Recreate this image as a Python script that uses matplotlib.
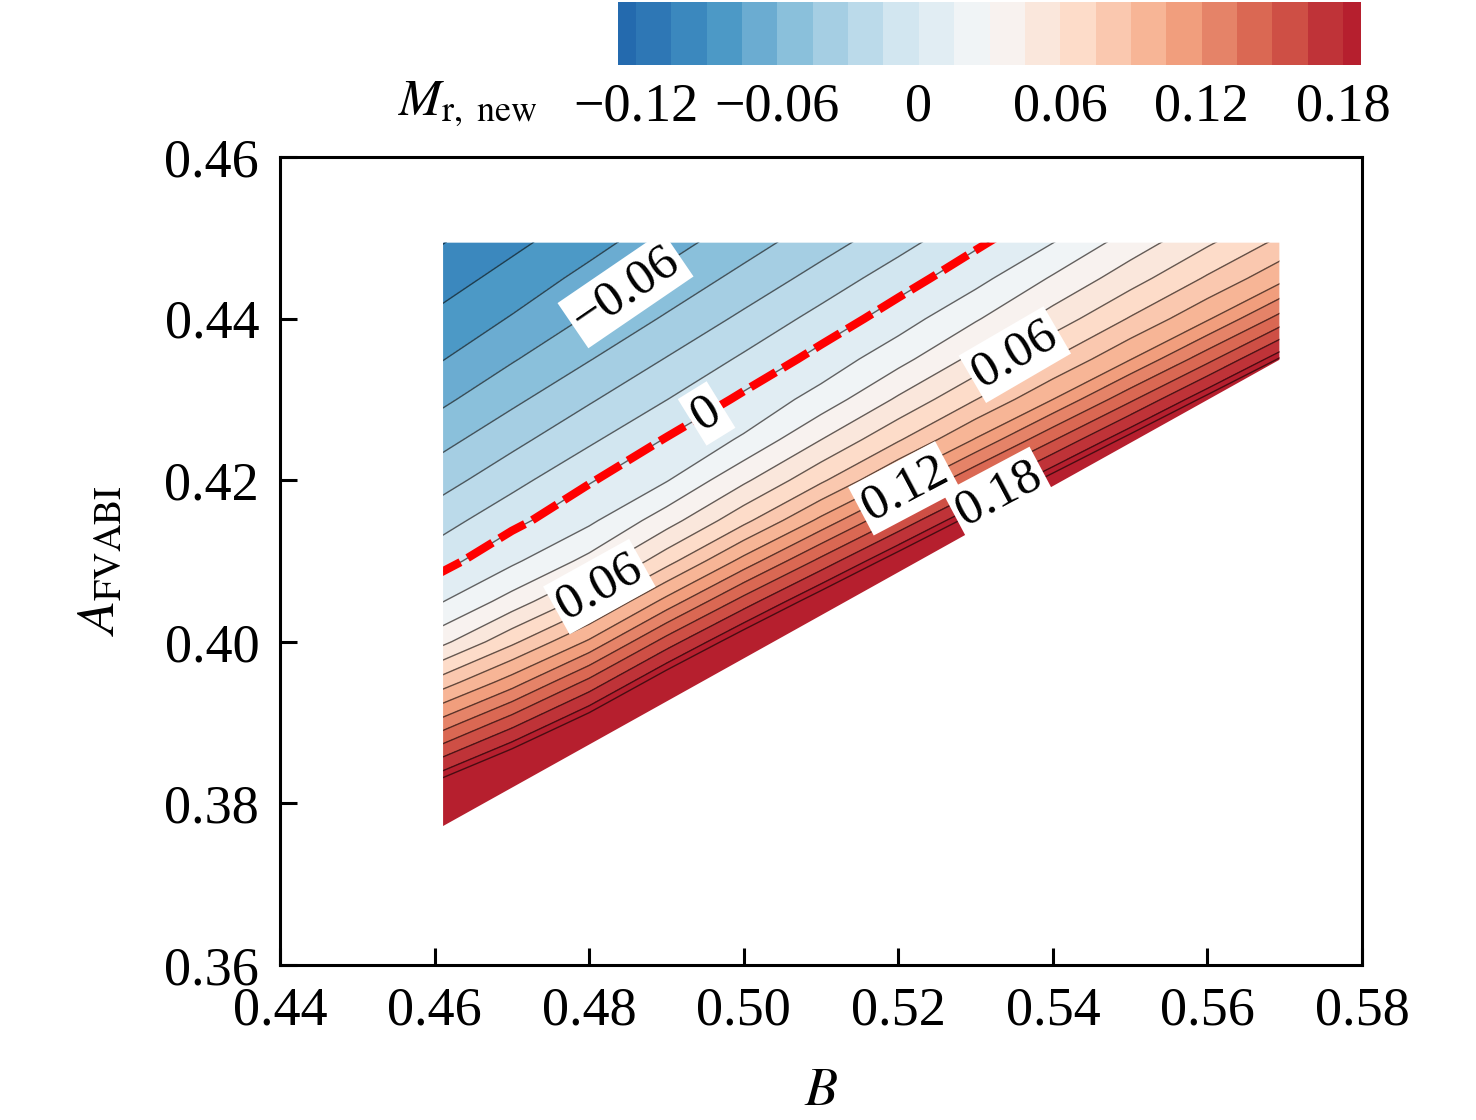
import numpy as np
import matplotlib
matplotlib.use('Agg')
import matplotlib.pyplot as plt
import matplotlib.cm as cm
from matplotlib.colors import ListedColormap, BoundaryNorm
from matplotlib.patches import Polygon

plt.rcParams['font.family'] = ['Liberation Serif', 'DejaVu Serif']
plt.rcParams['mathtext.fontset'] = 'stix'
plt.rcParams['contour.negative_linestyle'] = 'solid'

# grid of B (columns) and A_FVABI (rows, top to bottom), values of M_r,new
B = [0.46, 0.47, 0.48, 0.49, 0.50, 0.51, 0.52, 0.53, 0.54, 0.55, 0.56, 0.57]
A = [0.450, 0.445, 0.440, 0.435, 0.430, 0.425, 0.420, 0.415,
     0.410, 0.405, 0.400, 0.395, 0.390, 0.385, 0.380, 0.375]
M = [
    [-0.1080, -0.0949, -0.0815, -0.0672, -0.0529, -0.0379, -0.0220, -0.0044, 0.0125, 0.0346, 0.0552, 0.0774],
    [-0.0979, -0.0845, -0.0704, -0.0556, -0.0405, -0.0243, -0.0071, 0.0100, 0.0317, 0.0533, 0.0769, 0.1021],
    [-0.0875, -0.0739, -0.0584, -0.0432, -0.0268, -0.0098, 0.0077, 0.0283, 0.0513, 0.0762, 0.1030, 0.1429],
    [-0.0772, -0.0614, -0.0458, -0.0293, -0.0126, 0.0054, 0.0248, 0.0494, 0.0755, 0.1041, 0.1447, 0.1920],
    [-0.0646, -0.0484, -0.0318, -0.0153, 0.0032, 0.0211, 0.0473, 0.0746, 0.1050, 0.1467, 0.1932, 0.2400],
    [-0.0512, -0.0344, -0.0177, 0.0011, 0.0172, 0.0450, 0.0735, 0.1063, 0.1487, 0.1944, 0.2400, 0.2800],
    [-0.0372, -0.0202, -0.0013, 0.0140, 0.0421, 0.0722, 0.1075, 0.1507, 0.1958, 0.2400, 0.2800, 0.3200],
    [-0.0227, -0.0041, 0.0120, 0.0383, 0.0708, 0.1089, 0.1527, 0.1970, 0.2400, 0.2800, 0.3200, 0.3600],
    [-0.0069, 0.0121, 0.0345, 0.0691, 0.1102, 0.1546, 0.1982, 0.2400, 0.2850, 0.3200, 0.3600, 0.4000],
    [0.0121, 0.0361, 0.0675, 0.1100, 0.1566, 0.1995, 0.2430, 0.2900, 0.3300, 0.3600, 0.4000, 0.4400],
    [0.0376, 0.0715, 0.1074, 0.1569, 0.2007, 0.2440, 0.2900, 0.3300, 0.3700, 0.4000, 0.4400, 0.4800],
    [0.0790, 0.1126, 0.1546, 0.2005, 0.2450, 0.2900, 0.3300, 0.3700, 0.4100, 0.4400, 0.4800, 0.5200],
    [0.1221, 0.1591, 0.1982, 0.2450, 0.2900, 0.3300, 0.3700, 0.4100, 0.4500, 0.4800, 0.5200, 0.5600],
    [0.1679, 0.2028, 0.2425, 0.2900, 0.3300, 0.3700, 0.4100, 0.4500, 0.4900, 0.5200, 0.5600, 0.6000],
    [0.2116, 0.2472, 0.2870, 0.3300, 0.3700, 0.4100, 0.4500, 0.4900, 0.5300, 0.5600, 0.6000, 0.6400],
    [0.2560, 0.2900, 0.3300, 0.3700, 0.4100, 0.4500, 0.4900, 0.5300, 0.5700, 0.6000, 0.6400, 0.6800],
]

# corners of the region where the map is defined
domain_B = [0.4611, 0.5693, 0.5693, 0.4611]
domain_A = [0.4494, 0.4494, 0.4349, 0.3772]

cbar_ticks = [-0.12, -0.06, 0.0, 0.06, 0.12, 0.18]
cbar_labels = ['\u22120.12', '\u22120.06', '0', '0.06', '0.12', '0.18']
label_levels = [-0.06, 0.06, 0.12, 0.18]
label_fmt = {-0.06: '\u22120.06', 0.06: '0.06', 0.12: '0.12', 0.18: '0.18'}
label_pos = [(0.4852, 0.4429), (0.4814, 0.4067), (0.5351, 0.4355),
             (0.5209, 0.4188), (0.5332, 0.4180)]
zero_pos = [(0.4951, 0.4284)]

levels = [-0.1275] + [round(-0.12 + 0.015 * i, 3) for i in range(21)] + [0.1875]
lv = np.array(levels)
mids = (lv[:-1] + lv[1:]) / 2
pos = 0.1 + 0.8 * (mids - lv[0]) / (lv[-1] - lv[0])
band_colors = plt.cm.RdBu_r(pos)
cmap = ListedColormap(band_colors)
cmap.set_over(band_colors[-1])
norm = BoundaryNorm(levels, len(band_colors))

Bg, Ag = np.meshgrid(B, A)
Mg = np.array(M)

fig = plt.figure(figsize=(14.76, 11.2), dpi=100)
ax = fig.add_axes([0.1897, 0.1384, 0.7331, 0.7214])

clip = Polygon(np.column_stack([domain_B, domain_A]), closed=True,
               transform=ax.transData, fc='none', ec='none')
ax.add_patch(clip)

line_levels = [v for v in levels[1:] if v not in label_levels]
cf = ax.contourf(Bg, Ag, Mg, levels=levels, cmap=cmap, norm=norm, extend='max')
cl = ax.contour(Bg, Ag, Mg, levels=line_levels, colors='k', linewidths=1.0,
                alpha=0.6, linestyles='solid')
cl2 = ax.contour(Bg, Ag, Mg, levels=label_levels, colors='k', linewidths=1.0,
                 alpha=0.6, linestyles='solid')
cz = ax.contour(Bg, Ag, Mg, levels=[0.0], colors='red', linewidths=6,
                linestyles=[(0, (3.5, 1.0))])
for c in (cf, cl, cl2, cz):
    c.set_clip_path(clip)

box = dict(boxstyle='square,pad=0.08', fc='white', ec='none')
txt = ax.clabel(cl2, fmt=label_fmt, inline=True, fontsize=37, colors='k',
                manual=label_pos)
for t in txt:
    t.set_bbox(box)
    t.set_alpha(1)
tz = ax.clabel(cz, fmt={0.0: '0'}, inline=True, fontsize=37,
               colors='k', manual=zero_pos)
for t in tz:
    t.set_bbox(box)

ax.set_xlim(0.44, 0.58)
ax.set_ylim(0.36, 0.46)
xt = [0.44, 0.46, 0.48, 0.50, 0.52, 0.54, 0.56, 0.58]
yt = [0.36, 0.38, 0.40, 0.42, 0.44, 0.46]
ax.set_xticks(xt)
ax.set_xticklabels(['%.2f' % v for v in xt])
ax.set_yticks(yt)
ax.set_yticklabels(['%.2f' % v for v in yt])
ax.tick_params(direction='in', length=12, width=2.2, labelsize=39, pad=15,
               top=False, right=False)
for s in ax.spines.values():
    s.set_linewidth(2.2)
ax.set_xlabel(r'$B$', fontsize=39, labelpad=22)
ax.set_ylabel(r'$A_{\mathrm{FVABI}}$', fontsize=39, labelpad=28)

cax = fig.add_axes([0.4189, 0.942, 0.503, 0.056])
sm = cm.ScalarMappable(norm=norm, cmap=cmap)
cb = fig.colorbar(sm, cax=cax, orientation='horizontal', spacing='proportional',
                  ticks=cbar_ticks)
cb.set_ticklabels(cbar_labels)
cb.minorticks_off()
cb.outline.set_visible(False)
cax.tick_params(which='both', length=0, labelsize=39, pad=12)
fig.text(0.2696, 0.907, r'$M_{\mathrm{r,\ new}}$', fontsize=37, ha='left', va='center')

fig.savefig('out.png', dpi=100)
